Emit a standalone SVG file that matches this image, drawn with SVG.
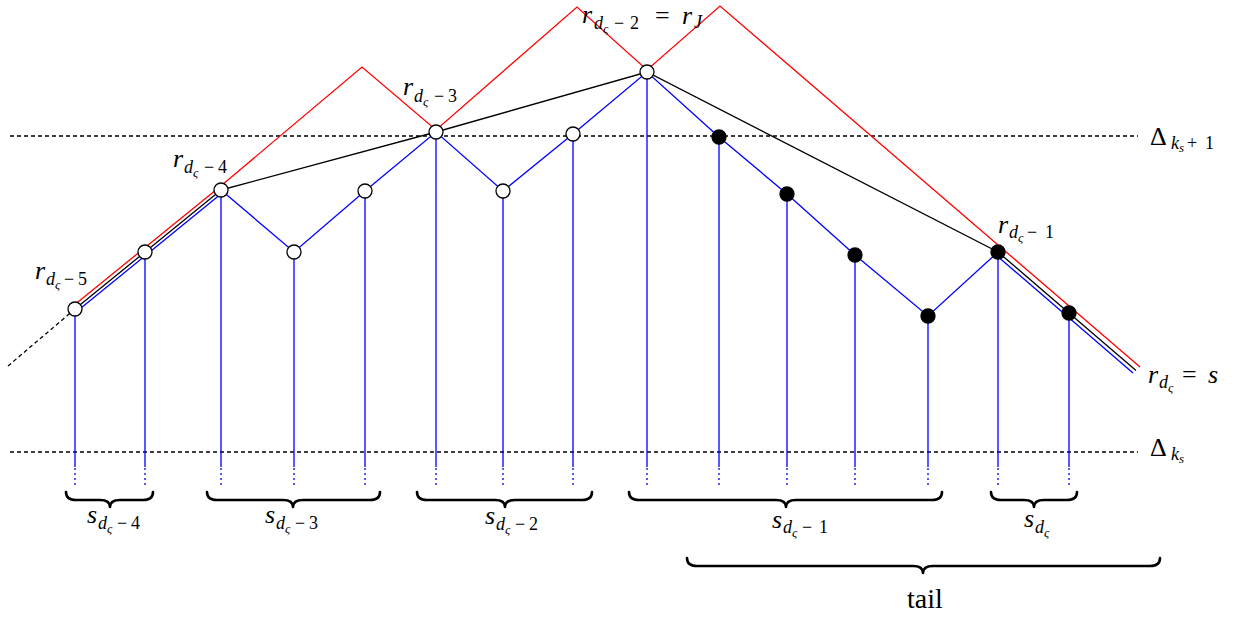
<svg xmlns="http://www.w3.org/2000/svg" width="1238" height="619" viewBox="0 0 1238 619">
<style>
.bl{stroke:#0000ff;stroke-width:1.3;fill:none}
.rd{stroke:#ff0000;stroke-width:1.3;fill:none}
.bk{stroke:#000;stroke-width:1.3;fill:none}
.dash{stroke:#000;stroke-width:1.3;stroke-dasharray:4 3;fill:none}
.dot{stroke:#0000ff;stroke-width:1.3;stroke-dasharray:2 3;fill:none}
.brace{stroke:#000;stroke-width:2.6;fill:none;stroke-linecap:round;stroke-linejoin:round}
.open{fill:#fff;stroke:#000;stroke-width:1.3}
.fill{fill:#000;stroke:#000;stroke-width:1.3}
</style>
<g id="guides">
<line class="dash" x1="10" y1="136" x2="1138" y2="136"/>
<line class="dash" x1="10" y1="452" x2="1138" y2="452"/>
</g>
<g id="connectors">
<polyline class="rd" points="73,306 219,187.5 362,67 436,130 577,7 647,70 720,6 1140,367"/>
<line class="dash" x1="8" y1="366" x2="75" y2="309"/>
<polyline class="bk" points="75,309 145,252 221,190"/>
<polyline class="bl" points="77,311.3 147,254.3 223,192.3"/>
<polyline class="bk" points="221,190 436,132 647,72 998,252 1069,313 1136,370.5"/>
<polyline class="bl" points="221,190 294,252 365,191 436,132 503,191 573,134 647,72 719,137 787,194 855,255 928,316 998,252"/>
<polyline class="bl" points="995.6,254.7 1066.6,315.7 1133,373"/>
<g id="verticals">
<path class="bl" d="M75,309V467M145,252V467M221,190V467M294,252V467M365,191V467M436,132V467M503,191V467M573,134V467M647,72V467M719,137V467M787,194V467M855,255V467M928,316V467M998,252V467M1069,313V467"/>
<path class="dot" d="M75,468V487M145,468V487M221,468V487M294,468V487M365,468V487M436,468V487M503,468V487M573,468V487M647,468V487M719,468V487M787,468V487M855,468V487M928,468V487M998,468V487M1069,468V487"/>
</g>
</g>
<g id="n1"><circle class="open" cx="75" cy="309" r="7"/></g>
<g id="n2"><circle class="open" cx="145" cy="252" r="7"/></g>
<g id="n3"><circle class="open" cx="221" cy="190" r="7"/></g>
<g id="n4"><circle class="open" cx="294" cy="252" r="7"/></g>
<g id="n5"><circle class="open" cx="365" cy="191" r="7"/></g>
<g id="n6"><circle class="open" cx="436" cy="132" r="7"/></g>
<g id="n7"><circle class="open" cx="503" cy="191" r="7"/></g>
<g id="n8"><circle class="open" cx="573" cy="134" r="7"/></g>
<g id="n9"><circle class="open" cx="647" cy="72" r="7"/></g>
<g id="n10"><circle class="fill" cx="719" cy="137" r="7"/></g>
<g id="n11"><circle class="fill" cx="787" cy="194" r="7"/></g>
<g id="n12"><circle class="fill" cx="855" cy="255" r="7"/></g>
<g id="n13"><circle class="fill" cx="928" cy="316" r="7"/></g>
<g id="n14"><circle class="fill" cx="998" cy="252" r="7"/></g>
<g id="n15"><circle class="fill" cx="1069" cy="313" r="7"/></g>
<g id="labels" font-family="'Liberation Serif', serif" fill="#000">
<text><tspan font-style="italic" font-size="26" x="35" y="279">r</tspan><tspan font-style="italic" font-size="18" x="46" y="285">d</tspan><tspan font-style="italic" font-size="13" x="55" y="289">ς</tspan><tspan font-size="18" x="64" y="285">−</tspan><tspan font-size="18" x="78" y="285">5</tspan></text>
<text><tspan font-style="italic" font-size="26" x="173" y="167">r</tspan><tspan font-style="italic" font-size="18" x="184" y="173">d</tspan><tspan font-style="italic" font-size="13" x="193" y="177">ς</tspan><tspan font-size="18" x="204" y="173">−</tspan><tspan font-size="18" x="218" y="173">4</tspan></text>
<text><tspan font-style="italic" font-size="26" x="403" y="95">r</tspan><tspan font-style="italic" font-size="18" x="414" y="102">d</tspan><tspan font-style="italic" font-size="13" x="423" y="106">ς</tspan><tspan font-size="18" x="434" y="102">−</tspan><tspan font-size="18" x="448" y="102">3</tspan></text>
<text><tspan font-style="italic" font-size="26" x="582" y="23">r</tspan><tspan font-style="italic" font-size="18" x="594" y="29">d</tspan><tspan font-style="italic" font-size="13" x="603" y="33">ς</tspan><tspan font-size="18" x="614" y="29">−</tspan><tspan font-size="18" x="630" y="29">2</tspan><tspan font-size="26" x="655" y="24">=</tspan><tspan font-style="italic" font-size="26" x="682" y="24">r</tspan><tspan font-style="italic" font-size="18" x="694" y="28">J</tspan></text>
<text><tspan font-style="italic" font-size="26" x="998" y="233">r</tspan><tspan font-style="italic" font-size="18" x="1009" y="238">d</tspan><tspan font-style="italic" font-size="13" x="1018" y="242">ς</tspan><tspan font-size="18" x="1027" y="238">−</tspan><tspan font-size="18" x="1045" y="238">1</tspan></text>
<text><tspan font-style="italic" font-size="26" x="1148" y="383">r</tspan><tspan font-style="italic" font-size="18" x="1159" y="388">d</tspan><tspan font-style="italic" font-size="13" x="1168" y="392">ς</tspan><tspan font-size="26" x="1182" y="383">=</tspan><tspan font-style="italic" font-size="26" x="1208" y="383">s</tspan></text>
<text><tspan font-size="26" x="1150" y="145">Δ</tspan><tspan font-style="italic" font-size="18" x="1171" y="149">k</tspan><tspan font-style="italic" font-size="13" x="1179" y="152">s</tspan><tspan font-size="18" x="1187" y="149">+</tspan><tspan font-size="18" x="1205" y="149">1</tspan></text>
<text><tspan font-size="26" x="1150" y="456">Δ</tspan><tspan font-style="italic" font-size="18" x="1171" y="460">k</tspan><tspan font-style="italic" font-size="13" x="1179" y="463">s</tspan></text>
</g>
<g id="braces">
<path class="brace" d="M66,492C66,498 70,500 76,500L100,500C106,500 110,502 110,507C110,502 114,500 120,500L143,500C149,500 153,498 153,492"/>
<path class="brace" d="M207,492C207,498 211,500 217,500L283,500C289,500 293,502 293,507C293,502 297,500 303,500L370,500C376,500 380,498 380,492"/>
<path class="brace" d="M417,492C417,498 421,500 427,500L495,500C501,500 505,502 505,507C505,502 509,500 515,500L582,500C588,500 592,498 592,492"/>
<path class="brace" d="M629,492C629,498 633,500 639,500L776,500C782,500 786,502 786,507C786,502 790,500 796,500L932,500C938,500 942,498 942,492"/>
<path class="brace" d="M991,492C991,498 995,500 1001,500L1024,500C1030,500 1034,502 1034,507C1034,502 1038,500 1044,500L1067,500C1073,500 1077,498 1077,492"/>
<path class="brace" d="M687,558C687,564 691,566 697,566L913,566C919,566 923,568 923,573C923,568 927,566 933,566L1150,566C1156,566 1160,564 1160,558"/>
<g font-family="'Liberation Serif', serif" fill="#000">
<text><tspan font-style="italic" font-size="26" x="87" y="523">s</tspan><tspan font-style="italic" font-size="18" x="98" y="529">d</tspan><tspan font-style="italic" font-size="13" x="107" y="533">ς</tspan><tspan font-size="18" x="117" y="529">−</tspan><tspan font-size="18" x="131" y="529">4</tspan></text>
<text><tspan font-style="italic" font-size="26" x="265" y="523">s</tspan><tspan font-style="italic" font-size="18" x="276" y="529">d</tspan><tspan font-style="italic" font-size="13" x="285" y="533">ς</tspan><tspan font-size="18" x="295" y="529">−</tspan><tspan font-size="18" x="309" y="529">3</tspan></text>
<text><tspan font-style="italic" font-size="26" x="485" y="524">s</tspan><tspan font-style="italic" font-size="18" x="496" y="530">d</tspan><tspan font-style="italic" font-size="13" x="505" y="534">ς</tspan><tspan font-size="18" x="515" y="530">−</tspan><tspan font-size="18" x="529" y="530">2</tspan></text>
<text><tspan font-style="italic" font-size="26" x="772" y="528">s</tspan><tspan font-style="italic" font-size="18" x="783" y="533">d</tspan><tspan font-style="italic" font-size="13" x="792" y="537">ς</tspan><tspan font-size="18" x="802" y="533">−</tspan><tspan font-size="18" x="819" y="533">1</tspan></text>
<text><tspan font-style="italic" font-size="26" x="1024" y="527">s</tspan><tspan font-style="italic" font-size="18" x="1035" y="533">d</tspan><tspan font-style="italic" font-size="13" x="1044" y="537">ς</tspan></text>
<text font-size="28" x="907" y="608">tail</text>
</g>
</g>
</svg>
